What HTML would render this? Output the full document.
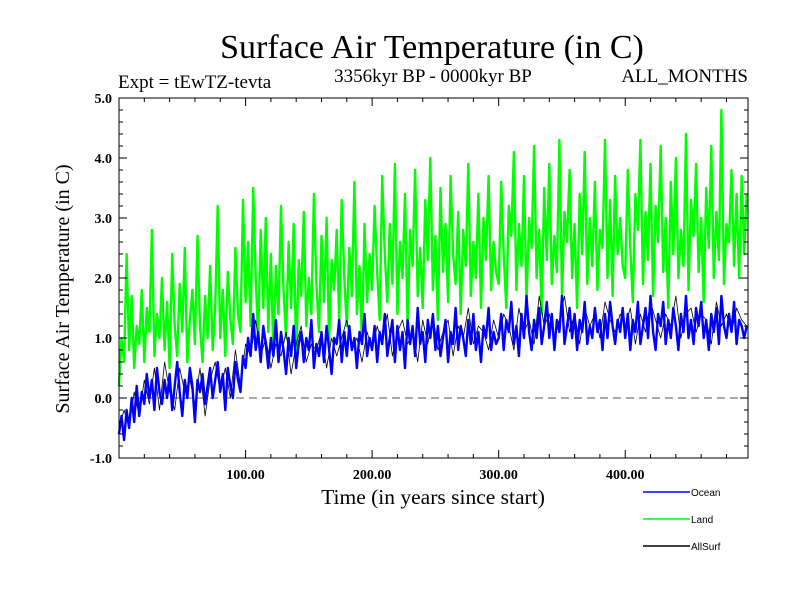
<!DOCTYPE html>
<html><head><meta charset="utf-8"><style>
body{margin:0;background:#fff;}
svg text{font-family:"Liberation Serif",serif;}
</style></head><body>
<svg id="c" width="800" height="600" xmlns="http://www.w3.org/2000/svg">
<text x="432" y="58" font-size="34" text-anchor="middle">Surface Air Temperature (in C)</text>
<text x="118" y="88" font-size="19">Expt = tEwTZ-tevta</text>
<text x="433" y="82" font-size="19" text-anchor="middle">3356kyr BP - 0000kyr BP</text>
<text x="748" y="82" font-size="19" text-anchor="end">ALL_MONTHS</text>
<text x="433" y="504" font-size="21.5" text-anchor="middle">Time (in years since start)</text>
<text transform="translate(69,289) rotate(-90)" font-size="20" text-anchor="middle">Surface Air Temperature (in C)</text>
<g id="plot"></g>
<g id="axes"></g>
<g>
<line x1="643" y1="492" x2="690" y2="492" stroke="#0000ff" stroke-width="1.5"/>
<text x="691" y="496" font-size="10" style="font-family:'Liberation Sans',sans-serif">Ocean</text>
<line x1="643" y1="519" x2="690" y2="519" stroke="#00ff00" stroke-width="1.5"/>
<text x="691" y="523" font-size="10" style="font-family:'Liberation Sans',sans-serif">Land</text>
<line x1="643" y1="546" x2="690" y2="546" stroke="#000" stroke-width="1.5"/>
<text x="691" y="550" font-size="10" style="font-family:'Liberation Sans',sans-serif">AllSurf</text>
</g>
</svg>
<script>
const yearStep = 2;
const allSurfStep = 4;
const land = [0.2,1.0,0.6,2.4,0.8,1.7,0.5,1.2,0.9,1.8,0.6,1.5,1.1,2.8,0.7,1.4,1.0,2.0,0.8,1.6,0.5,2.4,1.2,0.7,1.9,1.1,2.5,0.6,1.3,1.8,0.9,2.7,1.2,0.6,1.7,1.0,2.2,0.8,1.5,3.2,1.0,1.8,0.7,2.1,1.3,0.9,2.5,1.4,1.1,3.3,
1.6,2.6,1.2,3.5,2.0,1.0,2.8,1.5,3.0,1.1,2.4,0.7,2.2,1.4,3.2,1.8,1.0,2.6,1.5,2.9,0.6,2.3,1.7,3.1,1.2,2.0,1.4,3.4,1.9,1.1,2.7,1.6,3.0,0.9,2.3,1.8,2.8,1.3,3.3,2.0,1.2,2.5,1.7,3.6,1.4,2.2,0.9,2.9,1.6,2.4,
1.8,3.2,2.1,1.3,3.7,2.4,1.6,2.9,1.9,3.9,1.4,2.6,2.0,3.4,1.2,2.8,2.2,3.8,1.7,2.5,1.5,3.3,2.3,4.0,1.8,2.7,1.3,3.5,2.1,2.9,1.6,3.7,2.4,1.9,3.1,1.4,2.8,2.2,3.9,1.7,2.6,2.0,3.4,1.5,3.0,2.3,3.7,1.8,2.6,2.1,
1.9,3.6,2.4,1.5,3.2,2.7,4.1,1.8,2.9,2.2,3.7,1.6,3.0,2.5,4.2,2.0,2.8,1.4,3.5,2.3,3.9,1.9,2.7,2.1,4.3,1.7,3.1,2.6,3.8,2.0,2.9,1.5,3.4,2.4,4.1,1.9,3.0,2.2,3.6,1.8,2.8,2.5,4.3,2.0,3.3,1.7,3.7,2.4,3.0,2.2,
2.0,3.8,2.5,1.6,3.4,2.8,4.3,1.9,3.1,2.3,3.9,1.7,3.2,2.6,4.2,2.1,3.0,1.5,3.6,2.4,4.0,2.0,2.8,2.2,4.4,1.8,3.3,2.7,3.9,2.1,3.0,1.6,3.5,2.5,4.2,2.0,3.1,2.3,4.8,1.9,2.9,2.6,3.8,2.2,3.4,2.0,3.7,2.4,3.4];
const ocean = [-0.6,-0.3,-0.7,-0.2,-0.5,0.0,-0.4,0.2,-0.3,0.1,-0.1,0.4,0.0,0.3,-0.2,0.5,0.1,-0.1,0.3,0.0,0.4,-0.2,0.2,0.6,0.1,-0.3,0.3,0.0,0.5,0.2,-0.4,0.3,0.1,0.4,-0.1,0.2,0.5,0.0,0.3,0.6,0.1,0.4,-0.2,0.5,0.2,0.0,0.6,0.3,0.1,0.7,
0.5,1.0,0.7,1.4,0.8,1.1,0.6,1.2,0.9,0.5,1.0,0.7,1.3,0.6,1.1,0.8,0.4,1.0,0.7,1.2,0.5,0.9,1.1,0.6,1.0,0.8,1.3,0.5,0.9,0.7,1.1,0.6,1.2,0.8,0.4,1.0,0.9,1.3,0.6,1.1,0.7,1.2,0.8,1.0,0.5,1.1,0.9,1.4,0.7,1.0,
0.8,1.2,0.6,1.1,0.9,1.4,0.7,1.0,1.3,0.6,1.2,0.8,1.1,0.5,1.3,0.9,1.2,0.7,1.5,0.9,1.1,0.6,1.3,1.0,1.4,0.8,1.2,0.7,1.0,1.3,0.6,1.1,0.9,1.5,0.8,1.2,1.0,0.7,1.3,0.9,1.4,0.8,1.1,0.6,1.2,1.0,1.5,0.8,1.1,0.9,
1.0,1.4,0.8,1.3,1.1,1.6,0.9,1.2,0.7,1.4,1.0,1.7,1.1,0.8,1.3,1.0,1.5,0.9,1.2,1.6,1.0,1.4,0.8,1.3,1.1,1.7,0.9,1.2,1.5,1.0,1.4,0.8,1.3,1.1,1.6,0.9,1.2,1.0,1.5,1.1,1.3,0.8,1.4,1.0,1.6,1.2,0.9,1.3,1.1,1.5,
1.0,1.4,0.8,1.3,1.1,1.6,0.9,1.2,1.5,1.0,1.7,1.1,0.8,1.4,1.2,1.6,0.9,1.3,1.0,1.5,1.2,0.8,1.4,1.1,1.7,1.0,1.3,0.9,1.5,1.2,1.6,1.0,1.3,0.8,1.4,1.1,1.5,0.9,1.7,1.2,1.0,1.4,1.1,1.6,0.9,1.3,1.2,1.0,1.2];
const allSurf = [-0.5,-0.2,-0.5,0.1,-0.3,0.3,-0.1,0.5,-0.2,0.6,0.1,-0.2,0.5,0.1,0.3,-0.1,0.5,-0.3,0.3,0.6,0.1,0.5,0.0,0.8,0.2,
0.9,0.7,1.3,0.7,1.0,0.5,0.9,0.7,1.1,0.4,0.9,1.2,0.6,0.9,0.8,1.1,0.5,1.0,0.7,1.0,1.3,0.8,1.0,0.6,1.1,
0.8,1.2,0.9,1.4,0.7,1.1,1.3,0.9,1.1,0.6,1.3,0.9,1.4,0.8,1.1,1.3,0.7,1.2,1.0,1.5,0.9,1.2,1.1,0.8,1.3,
1.0,1.4,1.2,0.8,1.5,1.1,1.3,0.9,1.7,1.2,1.4,1.0,1.3,1.7,1.1,1.4,0.9,1.5,1.2,1.4,1.0,1.6,1.3,1.1,1.4,
1.2,1.5,0.9,1.4,1.1,1.6,1.3,1.0,1.4,1.2,1.7,1.0,1.4,1.5,1.1,1.4,1.3,0.9,1.6,1.2,1.4,1.1,1.5,1.3,1.2];
const xTicks = [100,200,300,400];
const xTickLabels = ["100.00","200.00","300.00","400.00"];
const yTicks = [-1,0,1,2,3,4,5];
const yTickLabels = ["-1.0","0.0","1.0","2.0","3.0","4.0","5.0"];

const NS="http://www.w3.org/2000/svg";
const L=119,R=748,T=98,B=458,xMin=0,xMax=497,yMin=-1,yMax=5;
const xs=v=>L+(v-xMin)/(xMax-xMin)*(R-L);
const ys=v=>B-(v-yMin)/(yMax-yMin)*(B-T);
function mk(tag,parent){const e=document.createElementNS(NS,tag);parent.appendChild(e);return e;}
const plot=document.getElementById('plot'), axes=document.getElementById('axes');

const zl=mk('line',plot);


zl.setAttribute('x1',L);zl.setAttribute('x2',R);zl.setAttribute('y1',ys(0));zl.setAttribute('y2',ys(0));
zl.setAttribute('stroke','#555');zl.setAttribute('stroke-dasharray','8,5');

function series(arr,step,color,w,name){
  const p=mk('polyline',plot);
  
  
  p.setAttribute('points',arr.map((v,i)=>xs(Math.min(i*step,xMax)).toFixed(1)+','+ys(v).toFixed(1)).join(' '));
  p.setAttribute('fill','none');p.setAttribute('stroke',color);p.setAttribute('stroke-width',w);
  p.setAttribute('stroke-linejoin','round');
}
series(land,yearStep,'#00ff00',2.4,'land-series');
series(allSurf,allSurfStep,'#000000',0.8,'allsurf-series');
series(ocean,yearStep,'#0000ff',2.4,'ocean-series');

const box=mk('rect',axes);


box.setAttribute('x',L);box.setAttribute('y',T);box.setAttribute('width',R-L);box.setAttribute('height',B-T);
box.setAttribute('fill','none');box.setAttribute('stroke','#000');box.setAttribute('stroke-width','1');

function tick(x1,y1,x2,y2){const t=mk('line',axes);
  
  
  t.setAttribute('x1',x1);t.setAttribute('y1',y1);t.setAttribute('x2',x2);t.setAttribute('y2',y2);t.setAttribute('stroke','#000');}
for(let v=yMin;v<=yMax+1e-9;v+=0.2){const y=ys(v);const major=Math.abs(v-Math.round(v))<1e-6;const len=major?8:4;
  tick(L,y,L+len,y);tick(R,y,R-len,y);}
for(let v=20;v<xMax;v+=20){const x=xs(v);const major=v%100===0;const len=major?8:4;
  tick(x,B,x,B-len);tick(x,T,x,T+len);}
yTicks.forEach((v,i)=>{const t=mk('text',axes);
  
  
  t.setAttribute('x',L-7);t.setAttribute('y',ys(v)+5);t.setAttribute('text-anchor','end');t.setAttribute('font-size','14');t.setAttribute('font-weight','bold');
  t.textContent=yTickLabels[i];});
xTicks.forEach((v,i)=>{const t=mk('text',axes);
  
  
  t.setAttribute('x',xs(v));t.setAttribute('y',479);t.setAttribute('text-anchor','middle');t.setAttribute('font-size','14');t.setAttribute('font-weight','bold');
  t.textContent=xTickLabels[i];});
</script>
</body></html>
